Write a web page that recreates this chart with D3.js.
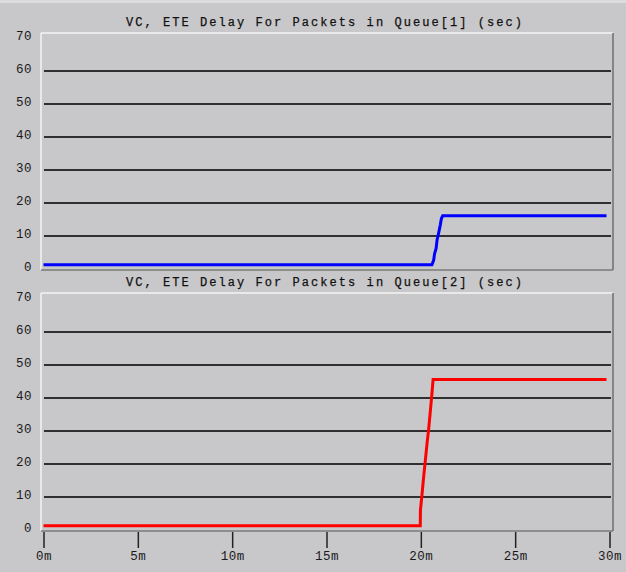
<!DOCTYPE html>
<html>
<head>
<meta charset="utf-8">
<script src="https://cdn.jsdelivr.net/npm/d3@7"></script>
<style>
  html, body { margin: 0; padding: 0; background: #c8c7ca; }
  svg { display: block; }
</style>
</head>
<body>
<svg id="chart" width="626" height="572"></svg>
<script>
// Simulation time (minutes) and end-to-end delay (sec) for each queue
const q1Time  = [0, 20.59, 20.68, 20.73, 20.81, 20.86, 20.94, 21.03, 21.09, 21.16, 29.84];
const q1Delay = [1.3, 1.3, 2.7, 4.7, 6.2, 8.8, 10.8, 13.3, 15.3, 16.1, 16.1];
const q2Time  = [0, 19.97, 19.98, 20.06, 20.15, 20.24, 20.33, 20.41, 20.50, 20.59, 20.65, 29.84];
const q2Delay = [1.3, 1.3, 6.1, 10.6, 16.2, 21.2, 26.3, 30.3, 35.8, 41.4, 45.6, 45.6];

const panelTitles = [
  "VC, ETE Delay For Packets in Queue[1] (sec)",
  "VC, ETE Delay For Packets in Queue[2] (sec)"
];
const panelColors = ["#0000ff", "#ff0000"];
const yTicks = [0, 10, 20, 30, 40, 50, 60, 70];
const gridValues = [10, 20, 30, 40, 50, 60];
const xTicks = [0, 5, 10, 15, 20, 25, 30];

const svg = d3.select("#chart");
const W = 626, H = 572;

svg.append("rect").attr("width", W).attr("height", H).attr("fill", "#c8c7ca");
svg.append("rect").attr("width", W).attr("height", 3).attr("fill", "#dcdbdd");

const frameLeft = 41, frameRight = 613;
const x = d3.scaleLinear().domain([0, 30]).range([43.5, 609.5]);

const panels = [
  { top: 33, bottom: 270, time: q1Time, delay: q1Delay },
  { top: 293, bottom: 531, time: q2Time, delay: q2Delay }
];

const monoFont = "'Liberation Mono', 'DejaVu Sans Mono', monospace";

panels.forEach((p, i) => {
  const g = svg.append("g");
  const y = d3.scaleLinear().domain([0, 70]).range([p.bottom - 1, p.bottom - 1 - 231]);

  // title
  g.append("text")
    .attr("x", 325).attr("y", p.top - 7)
    .attr("text-anchor", "middle")
    .attr("font-family", monoFont)
    .attr("font-size", 12)
    .attr("letter-spacing", 2.05)
    .attr("fill", "#111")
    .attr("stroke", "#111")
    .attr("stroke-width", 0.25)
    .text(panelTitles[i]);

  // gridlines
  g.append("g")
    .selectAll("line")
    .data(gridValues)
    .join("line")
    .attr("x1", 44).attr("x2", 611)
    .attr("y1", d => y(d)).attr("y2", d => y(d))
    .attr("stroke", "#303030")
    .attr("stroke-width", 1.8);

  // beveled frame: light on top/left, shadow on right/bottom
  g.append("line").attr("x1", frameLeft).attr("x2", frameRight)
    .attr("y1", p.top).attr("y2", p.top)
    .attr("stroke", "#f4f4f4").attr("stroke-width", 1.5);
  g.append("line").attr("x1", frameLeft).attr("x2", frameLeft)
    .attr("y1", p.top).attr("y2", p.bottom)
    .attr("stroke", "#f4f4f4").attr("stroke-width", 1.5);
  g.append("line").attr("x1", frameRight).attr("x2", frameRight)
    .attr("y1", p.top).attr("y2", p.bottom)
    .attr("stroke", "#6e6e6e").attr("stroke-width", 1.5);
  g.append("line").attr("x1", frameLeft).attr("x2", frameRight)
    .attr("y1", p.bottom).attr("y2", p.bottom)
    .attr("stroke", "#7a7a7a").attr("stroke-width", 1.5);

  // y axis labels
  const yAxis = d3.axisLeft(y).tickValues(yTicks).tickSize(0).tickPadding(0)
    .tickFormat(d3.format("d"));
  const ya = g.append("g").attr("transform", "translate(32,-3)").call(yAxis);
  ya.select(".domain").remove();
  ya.selectAll("text")
    .attr("font-family", monoFont)
    .attr("font-size", 12.5)
    .attr("letter-spacing", 0.5)
    .attr("fill", "#1a1a1a");

  // data line
  const pts = p.time.map((t, k) => [t, p.delay[k]]);
  g.append("path")
    .datum(pts)
    .attr("fill", "none")
    .attr("stroke", panelColors[i])
    .attr("stroke-width", 3)
    .attr("stroke-linejoin", "miter")
    .attr("d", d3.line().x(d => x(d[0])).y(d => y(d[1])));

  // time axis below the lower panel
  if (i === panels.length - 1) {
    const xAxis = d3.axisBottom(x).tickValues(xTicks).tickSize(16).tickPadding(3)
      .tickFormat(d => d + "m");
    const xa = g.append("g").attr("transform", `translate(0,${p.bottom + 1})`).call(xAxis);
    xa.select(".domain").remove();
    xa.selectAll(".tick line").attr("stroke", "#222").attr("stroke-width", 1.5);
    xa.selectAll("text")
      .attr("font-family", monoFont)
      .attr("font-size", 12.5)
      .attr("letter-spacing", 0.5)
      .attr("fill", "#1a1a1a");
  }
});
</script>
</body>
</html>
